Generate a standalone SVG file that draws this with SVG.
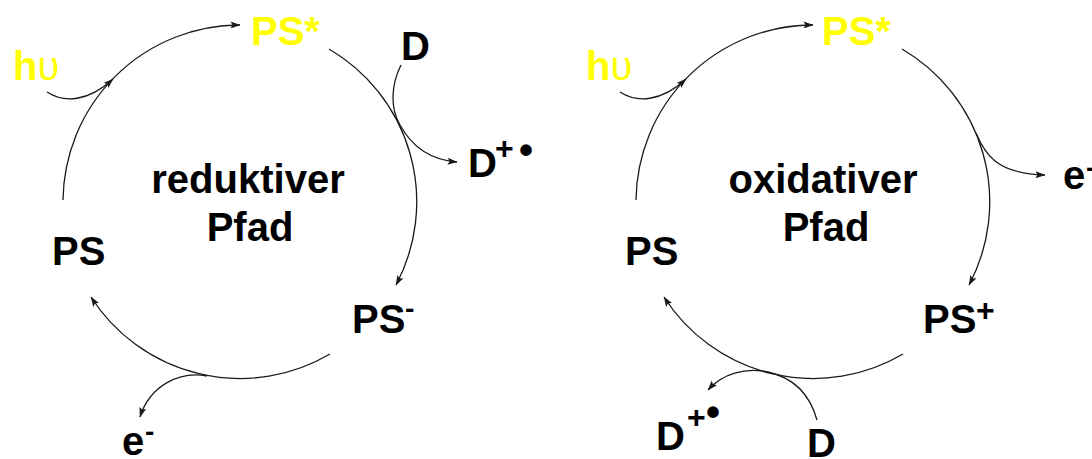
<svg xmlns="http://www.w3.org/2000/svg" width="1092" height="459" viewBox="0 0 1092 459">
<style>
.c{fill:none;stroke:#1a1a1a;stroke-width:1.3}
.t{font-family:"Liberation Sans",Arial,sans-serif;font-weight:bold;font-size:40px;fill:#000}
.y{fill:#ffff00}
.s{font-size:28px}
.p{font-size:32px}
.b{font-size:40px}
.n{font-weight:normal}
</style>
<defs>
<marker id="a" viewBox="0 0 10 7" refX="9.5" refY="3.5" markerWidth="10" markerHeight="7" markerUnits="userSpaceOnUse" orient="auto">
<path d="M0,0 L10,3.5 L0,7 L2,3.5 z" fill="#1a1a1a"/>
</marker>
</defs>
<g id="connectors">
<path class="c" d="M63,200 A177,177 0 0 1 240,25" marker-end="url(#a)"/>
<path class="c" d="M329,49 A177,177 0 0 1 396,285" marker-end="url(#a)"/>
<path class="c" d="M330,354 A177,177 0 0 1 91,297" marker-end="url(#a)"/>
<path class="c" d="M47,92 C64,103 88,102 113,79" marker-end="url(#a)"/>
<path class="c" d="M401,65 C391,85 390,108 400,125 C412,147 432,160 457,162" marker-end="url(#a)"/>
<path class="c" d="M207,376 C180,371 150,385 140,417" marker-end="url(#a)"/>
<path class="c" d="M636,200 A177,177 0 0 1 813,25" marker-end="url(#a)"/>
<path class="c" d="M902,49 A177,177 0 0 1 969,285" marker-end="url(#a)"/>
<path class="c" d="M903,354 A177,177 0 0 1 664,297" marker-end="url(#a)"/>
<path class="c" d="M620,92 C637,103 661,102 686,79" marker-end="url(#a)"/>
<path class="c" d="M976,133 C984,152 995,174 1045,175" marker-end="url(#a)"/>
<path class="c" d="M817,420 C810,395 795,378 768,372 C745,367 722,374 708,390" marker-end="url(#a)"/>
</g>
<g id="left-hv"><text class="t y" x="13" y="80">h<tspan class="n">υ</tspan></text></g>
<g id="left-psstar"><text class="t y" x="251" y="45">PS*</text></g>
<g id="left-d"><text class="t" x="401" y="60">D</text></g>
<g id="left-dplus"><text class="t" x="468" y="177">D<tspan class="p" x="495" y="159">+</tspan><tspan class="b" x="519" y="164">•</tspan></text></g>
<g id="left-label"><text class="t" x="248" y="193" text-anchor="middle">reduktiver</text><text class="t" x="250" y="241" text-anchor="middle">Pfad</text></g>
<g id="left-ps"><text class="t" x="52" y="265">PS</text></g>
<g id="left-psminus"><text class="t" x="352" y="333">PS<tspan class="s" x="405" y="318">-</tspan></text></g>
<g id="left-e"><text class="t" x="122" y="455">e<tspan class="s" x="145" y="441">-</tspan></text></g>
<g id="right-hv"><text class="t y" x="586" y="80">h<tspan class="n">υ</tspan></text></g>
<g id="right-psstar"><text class="t y" x="822" y="45">PS*</text></g>
<g id="right-e"><text class="t" x="1063" y="189">e<tspan class="s" x="1086" y="177">-</tspan></text></g>
<g id="right-label"><text class="t" x="823" y="193" text-anchor="middle">oxidativer</text><text class="t" x="826" y="241" text-anchor="middle">Pfad</text></g>
<g id="right-ps"><text class="t" x="625" y="265">PS</text></g>
<g id="right-psplus"><text class="t" x="923" y="333">PS<tspan class="p" x="976" y="321">+</tspan></text></g>
<g id="right-dplus"><text class="t" x="656" y="450">D<tspan class="p" x="687" y="428">+</tspan><tspan class="b" x="706" y="426">•</tspan></text></g>
<g id="right-d"><text class="t" x="807" y="457">D</text></g>
</svg>
